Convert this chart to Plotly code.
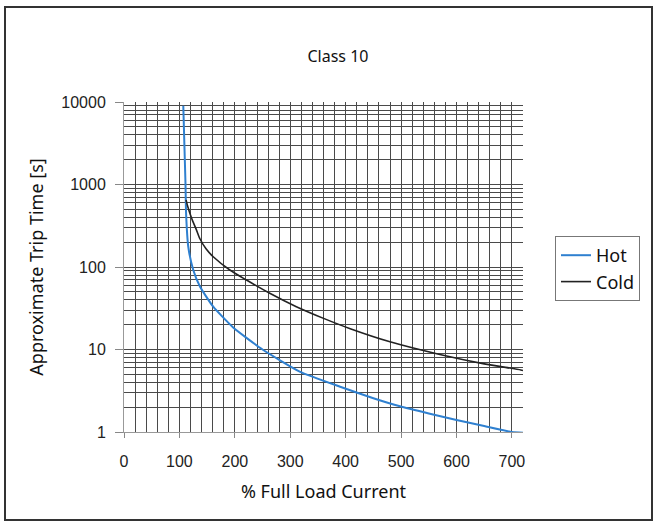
import plotly.graph_objects as go

# Data
hot_x = [107, 109, 111, 112, 116, 125, 137, 161, 197, 250, 317, 390, 450, 498, 550, 600, 650, 700, 720]
hot_y = [9000, 3000, 1000, 450, 176, 92, 58, 33, 18.5, 10, 5.4, 3.54, 2.57, 2.05, 1.68, 1.40, 1.18, 1.0, 0.98]
cold_x = [112, 115, 119, 124, 130, 137, 148, 161, 191, 221, 263, 311, 359, 407, 480, 570, 650, 716, 720]
cold_y = [650, 540, 446, 360, 290, 220, 166, 133, 92, 69.5, 48, 33, 24, 18.0, 12.4, 8.7, 6.7, 5.65, 5.55]

x_ticks = [0, 100, 200, 300, 400, 500, 600, 700]
y_ticks = [1, 10, 100, 1000, 10000]

fig = go.Figure()
fig.add_trace(go.Scatter(x=hot_x, y=hot_y, mode="lines", name="Hot",
                         line=dict(color="#2f80d0", width=2, shape="spline", smoothing=0.5)))
fig.add_trace(go.Scatter(x=cold_x, y=cold_y, mode="lines", name="Cold",
                         line=dict(color="#222222", width=1.6, shape="spline", smoothing=0.7)))

grid = "#4a4a4a"
title_font = "Noto Sans, Open Sans, sans-serif"
tick_font = dict(family="Liberation Sans, Arial, sans-serif", size=16, color="#222")

fig.update_layout(
    width=658, height=525,
    margin=dict(l=124, r=135, t=102, b=93),
    paper_bgcolor="white", plot_bgcolor="white",
    font=dict(family=title_font, size=15, color="#111"),
    title=dict(text="Class 10", x=338 / 658, xanchor="center", y=1 - 56 / 525, yanchor="middle",
               font=dict(size=16)),
    showlegend=True,
    legend=dict(x=(555 - 124) / 399, xanchor="left", y=(432 - 236) / 330, yanchor="top",
                bordercolor="#777", borderwidth=1, bgcolor="white",
                font=dict(size=18), tracegroupgap=0),
    xaxis=dict(range=[0, 720], tickvals=x_ticks, ticktext=[str(v) for v in x_ticks],
               tickfont=tick_font, ticklabelstandoff=10,
               showgrid=True, gridcolor=grid, gridwidth=1,
               minor=dict(dtick=20, showgrid=True, gridcolor=grid, gridwidth=1),
               ticks="outside", ticklen=5, tickcolor="#888",
               showline=True, linecolor="#999", linewidth=1, zeroline=False,
               title=dict(text="% Full Load Current", font=dict(size=18), standoff=16)),
    yaxis=dict(type="log", range=[0, 4], tickvals=y_ticks, ticktext=[str(v) for v in y_ticks],
               tickfont=tick_font, ticklabelstandoff=6,
               showgrid=True, gridcolor=grid, gridwidth=1,
               minor=dict(dtick="D1", showgrid=True, gridcolor=grid, gridwidth=1),
               ticks="outside", ticklen=8, tickcolor="#888",
               showline=True, linecolor="#999", linewidth=1, zeroline=False,
               title=dict(text="Approximate Trip Time [s]", font=dict(size=18), standoff=12)),
    shapes=[dict(type="rect", xref="paper", yref="paper",
                 x0=(5 - 124) / 399, x1=(652 - 124) / 399,
                 y0=(432 - 520) / 330, y1=(432 - 7) / 330,
                 line=dict(color="#333", width=2), fillcolor="rgba(0,0,0,0)", layer="below")],
)

fig.write_html("out.html", config={"displayModeBar": False},
               post_script="document.body.style.margin='0px';document.body.style.overflow='hidden';")
